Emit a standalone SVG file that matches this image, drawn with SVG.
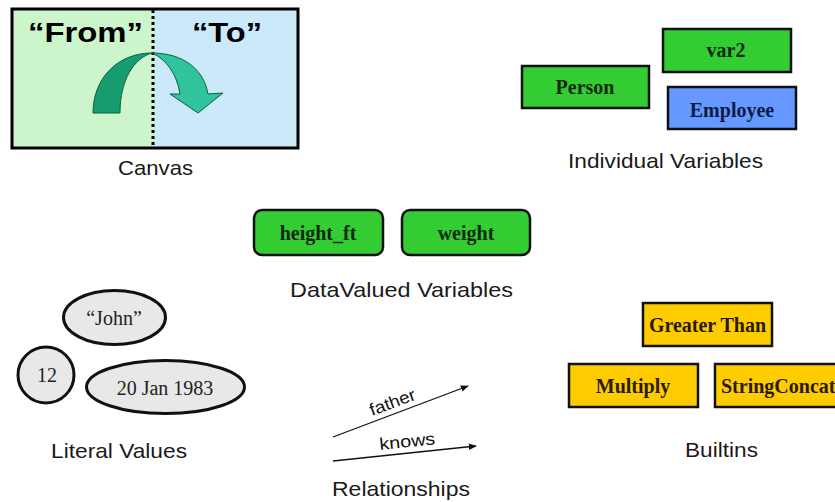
<svg xmlns="http://www.w3.org/2000/svg" width="835" height="502" viewBox="0 0 835 502">
<style>
.lbl{font-family:"Liberation Sans",Arial,sans-serif;font-size:21px;fill:#1a1a1a}
.box{stroke:#111;stroke-width:2.5}
.bt{font-family:"Liberation Serif","Times New Roman",serif;font-weight:bold;font-size:20px;text-anchor:middle}
.lit{fill:#e8e8e8;stroke:#111;stroke-width:3}
.lt{font-family:"Liberation Serif","Times New Roman",serif;font-size:20px;fill:#222;text-anchor:middle}
.rel{stroke:#111;stroke-width:1.3;fill:none;marker-end:url(#ah)}
.rt{font-family:"Liberation Sans",Arial,sans-serif;font-size:17px;fill:#111}
</style>
<defs>
<marker id="ah" viewBox="0 0 10 10" refX="9" refY="5" markerWidth="8" markerHeight="8" orient="auto" markerUnits="userSpaceOnUse">
<path d="M0,1 L10,5 L0,9 Z" fill="#111"/>
</marker>
</defs>
<rect width="835" height="502" fill="#fff"/>

<g id="canvas">
<rect x="12" y="9" width="141" height="139" fill="#ccf5cc"/>
<rect x="153" y="9" width="145" height="139" fill="#cce9fa"/>
<rect x="12" y="9" width="286" height="139" fill="none" stroke="#000" stroke-width="3"/>
<line x1="153" y1="10" x2="153" y2="147" stroke="#000" stroke-width="3" stroke-dasharray="3 3"/>
<text x="28" y="42" font-family="Liberation Sans,Arial,sans-serif" font-weight="bold" font-size="27" fill="#000" textLength="115" lengthAdjust="spacingAndGlyphs">“From”</text>
<text x="192" y="42" font-family="Liberation Sans,Arial,sans-serif" font-weight="bold" font-size="27" fill="#000" textLength="70" lengthAdjust="spacingAndGlyphs">“To”</text>
<path d="M93,113 C93,78 118,53 152,53 C134,58 120,80 120,113 Z" fill="#179c70" stroke="#0d5e44" stroke-width="1"/>
<path d="M152,53 C184,53 204,70 208,94 L223,93 L198,113 L170,94 L180,94 C177,74 166,59 152,53 Z" fill="#2fc49b" stroke="#0d5e44" stroke-width="1"/>
<text class="lbl" x="118" y="175" textLength="75" lengthAdjust="spacingAndGlyphs">Canvas</text>
</g>

<g id="individual-variables">
<rect class="box" x="522" y="66" width="127" height="42" fill="#33cc33"/>
<text class="bt" x="585" y="94" fill="#0f2a0f">Person</text>
<rect class="box" x="663" y="29" width="128" height="43" fill="#33cc33"/>
<text class="bt" x="726" y="57" fill="#0f2a0f">var2</text>
<rect class="box" x="668" y="87" width="128" height="42" fill="#6699ff"/>
<text class="bt" x="732" y="117" fill="#0f1a44">Employee</text>
<text class="lbl" x="568" y="168" textLength="195" lengthAdjust="spacingAndGlyphs">Individual Variables</text>
</g>

<g id="datavalued-variables">
<rect class="box" x="254" y="210" width="129" height="45" rx="8" fill="#33cc33" stroke-width="3"/>
<text class="bt" x="318" y="240" fill="#0f2a0f">height_ft</text>
<rect class="box" x="402" y="210" width="128" height="45" rx="8" fill="#33cc33" stroke-width="3"/>
<text class="bt" x="466" y="240" fill="#0f2a0f">weight</text>
<text class="lbl" x="290" y="297" textLength="223" lengthAdjust="spacingAndGlyphs">DataValued Variables</text>
</g>

<g id="literal-values">
<ellipse class="lit" cx="114.5" cy="317.5" rx="51" ry="27"/>
<text class="lt" x="114" y="325">“John”</text>
<circle class="lit" cx="46" cy="375" r="28"/>
<text class="lt" x="47" y="382">12</text>
<ellipse class="lit" cx="165.5" cy="387" rx="79" ry="26.5"/>
<text class="lt" x="165" y="395">20 Jan 1983</text>
<text class="lbl" x="51" y="458" textLength="136" lengthAdjust="spacingAndGlyphs">Literal Values</text>
</g>

<g id="connectors">
<line class="rel" x1="333" y1="437" x2="468" y2="386"/>
<line class="rel" x1="333" y1="461" x2="476" y2="446"/>
</g>

<g id="relationships">
<text class="rt" transform="translate(372,416) rotate(-20.5)" textLength="48" lengthAdjust="spacingAndGlyphs">father</text>
<text class="rt" transform="translate(380,450) rotate(-6)" textLength="56" lengthAdjust="spacingAndGlyphs">knows</text>
<text class="lbl" x="332" y="496" textLength="138" lengthAdjust="spacingAndGlyphs">Relationships</text>
</g>

<g id="builtins">
<rect class="box" x="643" y="303" width="129" height="43" fill="#ffcc00"/>
<text class="bt" x="707.5" y="332" fill="#2a1a00">Greater Than</text>
<rect class="box" x="569" y="364" width="129" height="43" fill="#ffcc00"/>
<text class="bt" x="633" y="393" fill="#2a1a00">Multiply</text>
<rect class="box" x="715" y="364" width="130" height="43" fill="#ffcc00"/>
<text class="bt" x="721" y="393" fill="#2a1a00" style="text-anchor:start">StringConcat</text>
<text class="lbl" x="685" y="457" textLength="73" lengthAdjust="spacingAndGlyphs">Builtins</text>
</g>
</svg>
